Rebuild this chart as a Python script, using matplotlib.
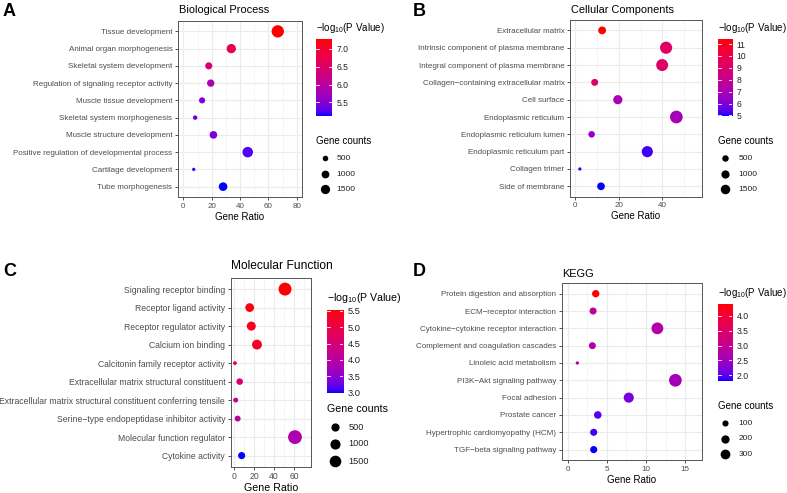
import numpy as np
import matplotlib
matplotlib.use("Agg")
import matplotlib.pyplot as plt
from matplotlib.colors import ListedColormap, Normalize

plt.rcParams['font.family'] = ['Liberation Sans', 'DejaVu Sans']
plt.rcParams['mathtext.fontset'] = 'custom'
plt.rcParams['mathtext.rm'] = 'Liberation Sans'
plt.rcParams['mathtext.it'] = 'Liberation Sans:italic'
plt.rcParams['mathtext.bf'] = 'Liberation Sans:bold'

# ---------------- data ----------------
bp_terms = ["Tissue development", "Animal organ morphogenesis", "Skeletal system development",
            "Regulation of signaling receptor activity", "Muscle tissue development",
            "Skeletal system morphogenesis", "Muscle structure development",
            "Positive regulation of developmental process", "Cartilage development",
            "Tube morphogenesis"]
bp_ratio = [66.6, 33.8, 17.9, 19.3, 13.2, 8.3, 21.2, 45.4, 7.3, 28.0]
bp_logp = [7.28, 6.75, 6.42, 5.82, 5.50, 5.38, 5.42, 5.25, 5.18, 5.12]
bp_counts = [3000, 1520, 805, 870, 595, 375, 955, 2045, 330, 1260]

cc_terms = ["Extracellular matrix", "Intrinsic component of plasma membrane",
            "Integral component of plasma membrane", "Collagen\u2212containing extracellular matrix",
            "Cell surface", "Endoplasmic reticulum", "Endoplasmic reticulum lumen",
            "Endoplasmic reticulum part", "Collagen trimer", "Side of membrane"]
cc_ratio = [12.4, 41.7, 39.9, 9.0, 19.6, 46.4, 7.6, 33.1, 2.2, 11.9]
cc_logp = [11.4, 9.3, 9.2, 8.95, 7.0, 6.9, 6.4, 5.2, 5.2, 4.95]
cc_counts = [870, 2920, 2790, 630, 1370, 3250, 530, 2320, 155, 835]

mf_terms = ["Signaling receptor binding", "Receptor ligand activity", "Receptor regulator activity",
            "Calcium ion binding", "Calcitonin family receptor activity",
            "Extracellular matrix structural constituent",
            "Extracellular matrix structural constituent conferring tensile",
            "Serine\u2212type endopeptidase inhibitor activity", "Molecular function regulator",
            "Cytokine activity"]
mf_ratio = [51.0, 15.5, 17.1, 22.8, 0.7, 5.4, 1.4, 3.4, 61.0, 7.4]
mf_logp = [5.53, 5.45, 5.40, 5.30, 4.75, 4.55, 4.15, 4.00, 3.85, 2.98]
mf_counts = [2040, 620, 685, 910, 28, 215, 56, 136, 2440, 296]

kegg_terms = ["Protein digestion and absorption", "ECM\u2212receptor interaction",
              "Cytokine\u2212cytokine receptor interaction", "Complement and coagulation cascades",
              "Linoleic acid metabolism", "PI3K\u2212Akt signaling pathway", "Focal adhesion",
              "Prostate cancer", "Hypertrophic cardiomyopathy (HCM)", "TGF\u2212beta signaling pathway"]
kegg_ratio = [3.58, 3.24, 11.46, 3.15, 1.23, 13.76, 7.8, 3.84, 3.32, 3.32]
kegg_logp = [4.40, 2.95, 2.80, 2.75, 2.60, 2.58, 2.20, 2.00, 1.94, 1.82]
kegg_counts = [150, 136, 481, 132, 52, 578, 328, 161, 139, 139]

# ---------------- Lab colour ramp (blue -> red) ----------------
_M = np.array([[0.4124564, 0.3575761, 0.1804375],
               [0.2126729, 0.7151522, 0.0721750],
               [0.0193339, 0.1191920, 0.9503041]])
_Minv = np.linalg.inv(_M)
_WHITE = np.array([0.95047, 1.0, 1.08883])


def _to_lab(rgb):
    c = np.asarray(rgb, float)
    lin = np.where(c <= 0.04045, c / 12.92, ((c + 0.055) / 1.055) ** 2.4)
    xyz = _M @ lin / _WHITE
    d = 6 / 29
    f = np.where(xyz > d ** 3, np.cbrt(xyz), xyz / (3 * d * d) + 4 / 29)
    return np.array([116 * f[1] - 16, 500 * (f[0] - f[1]), 200 * (f[1] - f[2])])


def _from_lab(lab):
    L, a, b = lab
    fy = (L + 16) / 116
    fx = fy + a / 500
    fz = fy - b / 200
    d = 6 / 29
    f = np.array([fx, fy, fz])
    xyz = np.where(f > d, f ** 3, 3 * d * d * (f - 4 / 29)) * _WHITE
    lin = _Minv @ xyz
    lin = np.clip(lin, 0, 1)
    c = np.where(lin <= 0.0031308, 12.92 * lin, 1.055 * lin ** (1 / 2.4) - 0.055)
    return np.clip(c, 0, 1)


_lo, _hi = _to_lab([0, 0, 1]), _to_lab([1, 0, 0])
cmap = ListedColormap([_from_lab(_lo + (_hi - _lo) * t) for t in np.linspace(0, 1, 256)])

# ---------------- figure ----------------
W, H = 787, 493
fig = plt.figure(figsize=(W / 100, H / 100), dpi=100)
over = fig.add_axes([0, 0, 1, 1])
over.set_xlim(0, W)
over.set_ylim(H, 0)
over.axis('off')
over.set_zorder(5)
over.patch.set_alpha(0)


def box(x0, y0, x1, y1):
    return fig.add_axes([x0 / W, 1 - y1 / H, (x1 - x0) / W, (y1 - y0) / H])


def panel(terms, ratio, logp, counts, p):
    k = p['fs']
    n = len(terms)
    ax = box(*p['ax'])
    ypos = np.arange(n, 0, -1)
    cnt = np.asarray(counts, float)
    cmin, cmax = cnt.min(), cnt.max()

    def diam(c):
        r = np.clip((np.asarray(c, float) - cmin) / (cmax - cmin), 0, 1)
        return p['dmin'] + (p['dmax'] - p['dmin']) * np.sqrt(r)

    norm = Normalize(min(logp), max(logp))
    ax.scatter(ratio, ypos, s=(diam(cnt) * 0.72) ** 2, c=logp, cmap=cmap, norm=norm,
               linewidths=0, zorder=3)
    ax.set_ylim(0.4, n + 0.6)
    ax.set_xlim(*p['xlim'])
    ax.set_yticks(ypos)
    ax.set_yticklabels(terms)
    ax.set_xticks(p['xticks'])
    ax.set_xticks(p['xminor'], minor=True)
    ax.grid(True, which='major', color='#EBEBEB', lw=0.8, zorder=0)
    ax.grid(True, which='minor', axis='x', color='#F2F2F2', lw=0.5, zorder=0)
    ax.set_axisbelow(True)
    ax.tick_params(which='major', length=2, width=0.6, color='#333333', pad=2,
                   labelsize=p['tfs'], labelcolor='#4D4D4D')
    ax.tick_params(which='minor', length=0)
    for s in ax.spines.values():
        s.set_color('#555555')
        s.set_linewidth(0.7)
    ax.set_xlabel('Gene Ratio', fontsize=7.0 * k, labelpad=p['lp'])
    # title and panel letter
    fig.text(p['ax'][0] / W + 0.001, 1 - p['ty'] / H, p['title'], fontsize=7.9 * k,
             va='center', ha='left')
    fig.text(p['lab'][0] / W, 1 - p['lab'][1] / H, p['letter'], fontsize=13,
             fontweight='bold', va='center', ha='left')
    # colour bar legend
    lx, ty = p['leg']
    over.text(lx, ty, '$-$log$_{10}$(P Value)', fontsize=7.0 * k, va='center', ha='left')
    cx0, cy0, cx1, cy1 = p['cbar']
    cax = box(cx0, cy0, cx1, cy1)
    grad = np.linspace(norm.vmin, norm.vmax, 300).reshape(-1, 1)
    cax.imshow(grad, extent=[0, 1, norm.vmin, norm.vmax], origin='lower', aspect='auto',
               cmap=cmap, norm=norm)
    cax.set_xlim(0, 1)
    cax.set_ylim(norm.vmin, norm.vmax)
    cax.set_xticks([])
    cax.yaxis.tick_right()
    cax.set_yticks(p['cticks'])
    cax.set_yticklabels([p['cfmt'].format(t) for t in p['cticks']])
    cax.tick_params(length=0, pad=3.2, labelsize=6.2 * k, labelcolor='#222222')
    for s in cax.spines.values():
        s.set_visible(False)
    for t in p['cticks']:
        cax.plot([0, 0.2], [t, t], color='white', lw=0.6)
        cax.plot([0.8, 1], [t, t], color='white', lw=0.6)
    # size legend
    gx, gy = p['gtitle']
    over.text(gx, gy, 'Gene counts', fontsize=7.0 * k, va='center', ha='left')
    for b, yy in zip(p['breaks'], p['bys']):
        over.scatter([p['bx']], [yy], s=(diam(b) * 0.72) ** 2, color='black', linewidths=0)
        over.text(p['blx'], yy, str(b), fontsize=6.0 * k, va='center', ha='left',
                  color='#222222')


panel(bp_terms, bp_ratio, bp_logp, bp_counts, dict(
    fs=1.0, tfs=5.8, ax=(178, 21, 302, 197), xlim=(-3.8, 83.7), xticks=[0, 20, 40, 60, 80],
    xminor=[10, 30, 50, 70], lp=1.5, title='Biological Process', ty=10, letter='A',
    lab=(3, 12), leg=(316, 28.3), cbar=(316, 39, 332, 116), cticks=[5.5, 6.0, 6.5, 7.0],
    cfmt='{:.1f}', gtitle=(316, 141), breaks=[500, 1000, 1500], bys=[158.3, 174, 189.3],
    bx=325, blx=336.7, dmin=3.3, dmax=12.3))

panel(cc_terms, cc_ratio, cc_logp, cc_counts, dict(
    fs=1.0, tfs=5.8, ax=(570, 20, 701.7, 196.7), xlim=(-2.3, 58), xticks=[0, 20, 40],
    xminor=[10, 30, 50], lp=1.5, title='Cellular Components', ty=10, letter='B',
    lab=(413, 12), leg=(717.7, 28.3), cbar=(717.7, 39.3, 732.3, 116),
    cticks=[5, 6, 7, 8, 9, 10, 11], cfmt='{:d}', gtitle=(717.7, 141),
    breaks=[500, 1000, 1500], bys=[158.3, 174, 189.3], bx=725, blx=738.3,
    dmin=3.3, dmax=12.7))

panel(mf_terms, mf_ratio, mf_logp, mf_counts, dict(
    fs=1.09, tfs=6.2, ax=(230.7, 278, 310.7, 466.7), xlim=(-3.6, 76.8), xticks=[0, 20, 40, 60],
    xminor=[10, 30, 50, 70], lp=1.5, title='Molecular Function', ty=265.7, letter='C',
    lab=(3, 271.7), leg=(326.7, 298), cbar=(326.7, 310, 343.3, 393.3),
    cticks=[3.0, 3.5, 4.0, 4.5, 5.0, 5.5], cfmt='{:.1f}', gtitle=(326.7, 409),
    breaks=[500, 1000, 1500], bys=[427, 444, 461], bx=335, blx=348.3,
    dmin=3.8, dmax=13.8))

panel(kegg_terms, kegg_ratio, kegg_logp, kegg_counts, dict(
    fs=1.0, tfs=5.8, ax=(561.7, 283.3, 702.3, 460), xlim=(-0.77, 17.2), xticks=[0, 5, 10, 15],
    xminor=[2.5, 7.5, 12.5], lp=1.5, title='KEGG', ty=274.3, letter='D',
    lab=(413, 271.7), leg=(717.7, 292.7), cbar=(717.7, 304, 732.3, 380.7),
    cticks=[2.0, 2.5, 3.0, 3.5, 4.0], cfmt='{:.1f}', gtitle=(717.7, 406),
    breaks=[100, 200, 300], bys=[423.3, 439, 454], bx=725, blx=738.3,
    dmin=3.3, dmax=12.7))

fig.savefig('out.png', dpi=100)
